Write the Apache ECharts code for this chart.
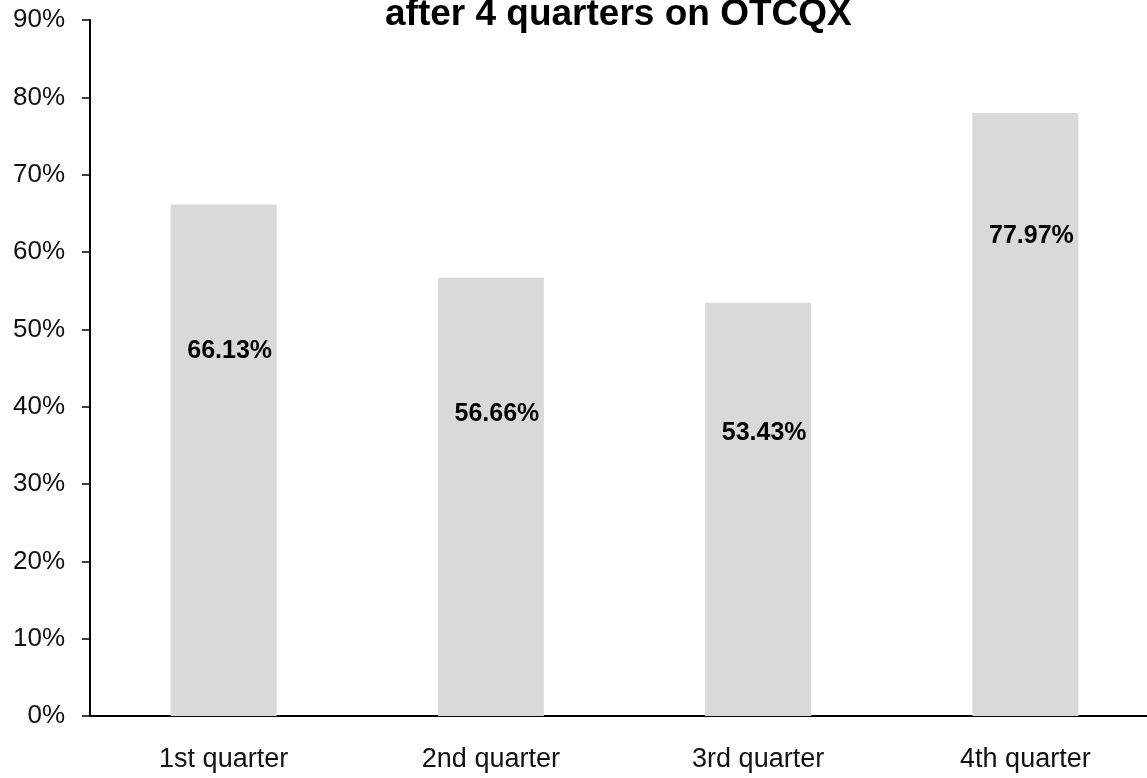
<!DOCTYPE html>
<html>
<head>
<meta charset="utf-8">
<script src="https://cdn.jsdelivr.net/npm/echarts@6/dist/echarts.min.js"></script>
<style>
  html, body { margin: 0; padding: 0; background: #fff; overflow: hidden; }
  /* the plot runs a little past the right edge in the source */
  #chart { width: 1159px; height: 778px; }
</style>
</head>
<body>
<div id="chart"></div>
<script>
  // data
  const quarters = ['1st quarter', '2nd quarter', '3rd quarter', '4th quarter'];
  const shares = [66.13, 56.66, 53.43, 77.97];
  const yTicks = [0, 10, 20, 30, 40, 50, 60, 70, 80, 90];

  // label drop below bar top (px), the source places them unevenly
  const labelDrop = [146.5, 136.5, 130.5, 123.5];

  const chart = echarts.init(document.getElementById('chart'));
  const font = '"Liberation Sans", Arial, sans-serif';

  chart.setOption({
    animation: false,
    title: {
      text: 'after 4 quarters on OTCQX',
      left: 385,
      top: -4,
      padding: 0,
      textStyle: { fontFamily: font, fontSize: 37, fontWeight: 'bold', color: '#000' }
    },
    grid: { left: 90, right: 0, top: 20, bottom: 62 },
    xAxis: {
      type: 'category',
      data: quarters,
      axisLine: { lineStyle: { color: '#000', width: 2 } },
      axisTick: { length: 10, lineStyle: { color: '#000', width: 1.5 } },
      axisLabel: { margin: 30, fontFamily: font, fontSize: 27, color: '#111' }
    },
    yAxis: {
      type: 'value',
      min: yTicks[0],
      max: yTicks[yTicks.length - 1],
      interval: 10,
      splitLine: { show: false },
      axisLine: { show: true, lineStyle: { color: '#000', width: 2 } },
      axisTick: { show: true, length: 8, lineStyle: { color: '#000', width: 1.5 } },
      axisLabel: { margin: 25, formatter: '{value}%', fontFamily: font, fontSize: 26, color: '#111' }
    },
    series: [{
      type: 'bar',
      barWidth: 106,
      itemStyle: { color: '#d9d9d9' },
      label: {
        show: true,
        position: 'insideTop',
        distance: 0,
        verticalAlign: 'middle',
        fontFamily: font,
        fontSize: 25,
        fontWeight: 'bold',
        color: '#000',
        formatter: p => p.value.toFixed(2) + '%'
      },
      data: shares.map((v, i) => ({ value: v, label: { offset: [6, labelDrop[i]] } }))
    }]
  });
</script>
</body>
</html>
